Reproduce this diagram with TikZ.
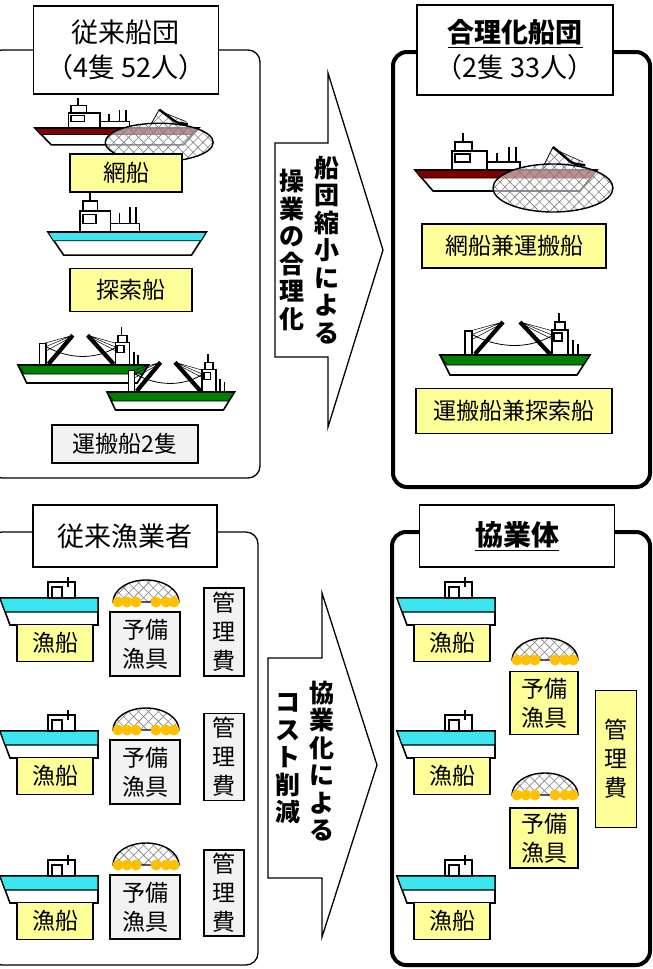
\documentclass[tikz,border=0pt]{standalone}
\usepackage{fontspec}
\setmainfont{Noto Sans CJK JP}
\usepackage{xcolor}
\usepackage{tikz}
\usetikzlibrary{positioning, patterns.meta}

\definecolor{labelyellow}{HTML}{FFFF99}
\definecolor{labelgray}{HTML}{F2F2F2}
\definecolor{hullred}{HTML}{800000}
\definecolor{hullgreen}{HTML}{008000}
\definecolor{hullcyan}{HTML}{3CE6EE}
\definecolor{floatorange}{HTML}{FFC000}

\tikzstyle{yellowbox} = [draw, line width=1.8pt, fill=labelyellow, inner sep=0pt, align=center, font=\fontsize{23}{29}\selectfont]
\tikzstyle{graybox} = [yellowbox, fill=labelgray]
\tikzstyle{titlebox} = [draw, line width=1.3pt, fill=white, inner sep=0pt, align=center, font=\fontsize{27}{35}\selectfont]
\tikzstyle{oldpanel} = [draw, line width=1.3pt, rounded corners=12pt]
\tikzstyle{newpanel} = [draw, line width=4pt, rounded corners=14pt]
\tikzstyle{bigarrow} = [draw, line width=1.3pt, fill=white, line join=miter]
\tikzstyle{arrowtext} = [align=center, inner sep=0pt, font=\bfseries\fontsize{25}{27.5}\selectfont]
\tikzstyle{netright} = [pattern={Lines[angle=45,distance=7pt,line width=0.6pt]}, pattern color=gray]
\tikzstyle{netleft} = [pattern={Lines[angle=-45,distance=7pt,line width=0.6pt]}, pattern color=gray]

\tikzset{
  % ship with bridge and posts, #1 = hull stripe
  pics/trawler/.style={code={
    \filldraw[fill=white, line width=1.6pt] (0,0) -- (182,0) -- (165,21) -- (18,21) -- cycle;
    \filldraw[fill=#1, line width=0.8pt] (0,0) -- (182,0) -- (176,8) -- (6,8) -- cycle;
    \draw[line width=1.8pt] (0,0) -- (182,0);
    \filldraw[fill=white, line width=1.6pt] (37,-19) rectangle (72,0);
    \draw[line width=1.4pt] (40,-16) rectangle (55,-8);
    \filldraw[fill=white, line width=1.6pt] (40,-28) rectangle (57,-19);
    \draw[line width=1.6pt] (48,-37) -- (48,-28);
    \filldraw[fill=white, line width=1.4pt] (72,-8) rectangle (105,0);
    \draw[line width=1.6pt] (82,-8) -- (82,-17) (94,-8) -- (94,-23) (101,-8) -- (101,-23);
  }},
  % net hauled alongside
  pics/trawlnet/.style={code={
    \fill[white, opacity=0.5] (138,-23) -- (127,-1) -- (174,-3) -- cycle;
    \path[netright] (138,-23) -- (127,-1) -- (174,-3) -- cycle;
    \path[netleft] (138,-23) -- (127,-1) -- (174,-3) -- cycle;
    \draw[line width=0.8pt] (127,-1) -- (138,-23);
    \draw[line width=2.4pt] (138,-23) -- (150,-13) .. controls (158,-6) .. (170,-5);
    \draw[line width=0.6pt] (139,-21) -- (168,-8);
    \fill[white, opacity=0.55] (138,18) ellipse [x radius=60, y radius=24];
    \path[netright] (138,18) ellipse [x radius=60, y radius=24];
    \path[netleft] (138,18) ellipse [x radius=60, y radius=24];
    \draw[line width=1.4pt] (138,18) ellipse [x radius=60, y radius=24];
  }},
  % carrier with two booms
  pics/carrier/.style={code={
    \filldraw[fill=white, line width=1.6pt] (0,0) -- (150,0) -- (137,20) -- (10,20) -- cycle;
    \filldraw[fill=hullgreen, line width=0.8pt] (0,0) -- (150,0) -- (143,10) -- (7,10) -- cycle;
    \draw[line width=1.8pt] (0,0) -- (150,0);
    \filldraw[fill=white, line width=1.4pt] (25,-24) rectangle (32,0);
    \draw[line width=0.5pt] (63,-33) -- (30,-24) (63,-33) -- (31,-20) (63,-32) -- (33,-16);
    \draw[line width=0.5pt] (80,-33) -- (113,-24) (80,-33) -- (112,-20) (80,-32) -- (112,-16);
    \draw[line width=0.8pt] (33,-20) .. controls (60,-6) and (90,-6) .. (113,-20);
    \draw[line width=4.2pt] (35,-1) -- (63,-33) (110,-1) -- (80,-33);
    \filldraw[fill=white, line width=1.6pt] (112,-25) rectangle (128,0);
    \draw[line width=1.4pt] (114,-22) rectangle (122,-14);
    \filldraw[fill=white, line width=1.6pt] (115,-33) rectangle (125,-25);
    \draw[line width=1.6pt] (119,-42) -- (119,-33);
    \draw[line width=1.6pt] (133,-15) -- (133,0) (138,-11) -- (138,0);
  }},
  % small fishing boat
  pics/boat/.style={code={
    \filldraw[fill=white, line width=1.6pt] (0,0) -- (98,0) -- (98,27) -- (10,27) -- cycle;
    \filldraw[fill=hullcyan, line width=1.2pt] (0,0) -- (98,0) -- (98,14) -- (5,14) -- cycle;
    \filldraw[fill=white, line width=1.6pt] (48,-16) rectangle (75,0);
    \draw[line width=1.4pt] (52,-11) rectangle (62,0);
    \draw[line width=1.6pt] (68,-21) -- (68,-11);
  }},
  % spare net with floats
  pics/sparenet/.style={code={
    \fill[white] (-33,0) arc [start angle=180, end angle=360, x radius=33, y radius=22] -- cycle;
    \path[netright] (-33,0) arc [start angle=180, end angle=360, x radius=33, y radius=22] -- cycle;
    \path[netleft] (-33,0) arc [start angle=180, end angle=360, x radius=33, y radius=22] -- cycle;
    \draw[line width=1.4pt] (-33,0) arc [start angle=180, end angle=360, x radius=33, y radius=22] -- cycle;
    \foreach \fx in {-28,-19,-10,10,20,28}
      \fill[floatorange] (\fx,0) circle (5.5);
  }},
}

\begin{document}
\begin{tikzpicture}[x=1pt, y=-1pt]
\useasboundingbox (0,0) rectangle (653,969);

% frames
\draw[oldpanel] (-10,50) rectangle (260,478);
\draw[newpanel] (393,52) rectangle (650,487);
\draw[oldpanel] (-10,532) rectangle (258,965);
\draw[newpanel] (392,532) rectangle (650,965);

\node[titlebox, minimum width=185, minimum height=88] (oldfleet) at (126,50) {従来船団\\（4隻 52人）};
\node[titlebox, minimum width=196, minimum height=90] (newfleet) at (515,50) {\underline{\textbf{合理化船団}}\\（2隻 33人）};
\node[titlebox, minimum width=184, minimum height=62] (oldfisher) at (125,536) {従来漁業者};
\node[titlebox, minimum width=195, minimum height=62, font=\bfseries\fontsize{28}{30}\selectfont] (jointbody) at (517,536) {\underline{協業体}};

% old fleet
\pic[xscale=0.9, yscale=0.8] at (35,128) {trawler=hullred};
\pic[xscale=0.9, yscale=0.8] at (35,128) {trawlnet};
\node[yellowbox, minimum width=112, minimum height=38] (netship) at (126,173) {網船};
\pic[xscale=0.87, yscale=1.1] at (48,232) {trawler=hullcyan};
\node[yellowbox, minimum width=122, minimum height=43] (scoutship) at (131,290) {探索船};
\pic[xscale=0.87, yscale=0.9] at (18,365) {carrier};
\pic[xscale=0.85, yscale=0.9] at (107,392) {carrier};
\node[graybox, minimum width=146, minimum height=38] (carriers) at (125,444) {運搬船2隻};

% new fleet
\pic at (415,170) {trawler=hullred};
\pic at (415,170) {trawlnet};
\node[yellowbox, minimum width=184, minimum height=44] (netcarrier) at (514,246) {網船兼運搬船};
\pic at (440,355) {carrier};
\node[yellowbox, minimum width=196, minimum height=45] (carrierscout) at (514,411) {運搬船兼探索船};

% arrows
\draw[bigarrow] (275,143) -- (328,143) -- (328,73) -- (383,250) -- (328,427) -- (328,357) -- (275,357) -- cycle;
\node[arrowtext] (shrinktext) at (327,250) {船\\団\\縮\\小\\に\\よ\\る};
\node[arrowtext] (rationtext) at (292,250) {操\\業\\の\\合\\理\\化};
\draw[bigarrow] (268,658) -- (322,658) -- (322,593) -- (377,765) -- (322,937) -- (322,878) -- (268,878) -- cycle;
\node[arrowtext] (jointtext) at (322,761) {協\\業\\化\\に\\よ\\る};
\node[arrowtext] (costtext) at (288,759) {コ\\ス\\ト\\削\\減};

% old fishers
\foreach \row/\dy in {1/0, 2/133, 3/278} {
  \pic at (0,598+\dy) {boat};
  \node[yellowbox, minimum width=76, minimum height=37] (oldboat\row) at (55,643+\dy) {漁船};
}
\foreach \row/\dy in {1/0, 2/128, 3/263} {
  \pic at (146,602+\dy) {sparenet};
  \node[graybox, minimum width=70, minimum height=64] (oldgear\row) at (145,644+\dy) {予備\\漁具};
}
\node[graybox, minimum width=40, minimum height=88] (oldcost1) at (224,632) {管\\理\\費};
\node[graybox, minimum width=40, minimum height=87] (oldcost2) at (224,757) {管\\理\\費};
\node[graybox, minimum width=40, minimum height=86] (oldcost3) at (224,893) {管\\理\\費};

% joint body
\foreach \row/\dy in {1/0, 2/133, 3/278} {
  \pic at (397,598+\dy) {boat};
  \node[yellowbox, minimum width=76, minimum height=37] (newboat\row) at (452,643+\dy) {漁船};
}
\pic at (545,660) {sparenet};
\node[yellowbox, minimum width=68, minimum height=63] (newgear1) at (544,703) {予備\\漁具};
\pic at (545,795) {sparenet};
\node[yellowbox, minimum width=68, minimum height=60] (newgear2) at (544,838) {予備\\漁具};
\node[yellowbox, minimum width=41, minimum height=137] (newcost) at (616,759) {管\\理\\費};

\end{tikzpicture}
\end{document}
